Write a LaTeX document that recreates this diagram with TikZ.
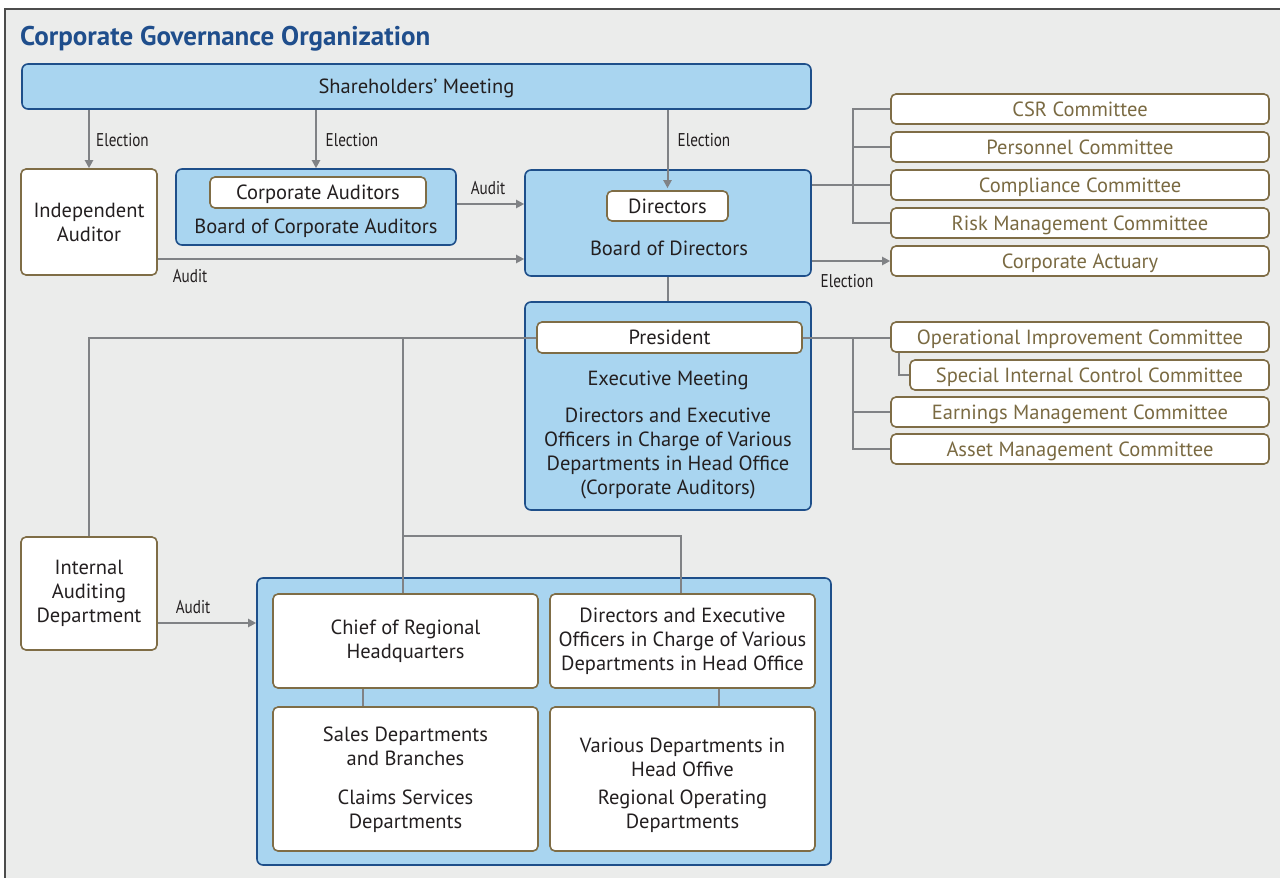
\documentclass[tikz,border=0pt]{standalone}
\usepackage{fontspec}
\setmainfont{PT Sans}
\newfontfamily\condfont{PT Sans}[FakeStretch=0.82]
\usetikzlibrary{arrows.meta,calc}
\definecolor{bg}{HTML}{EBECEB}
\definecolor{lblue}{HTML}{A9D5F0}
\definecolor{dblue}{HTML}{1E4F8A}
\definecolor{brownb}{HTML}{7F6D46}
\definecolor{browntxt}{HTML}{7A6A42}
\definecolor{conn}{HTML}{808285}
\definecolor{txt}{HTML}{231F20}
\definecolor{titleblue}{HTML}{1F4E8C}
\tikzset{
  bluebox/.style={draw=dblue, fill=lblue, line width=1.6pt, rounded corners=6pt, inner sep=0pt, text=txt},
  whitebox/.style={draw=brownb, fill=white, line width=1.6pt, rounded corners=5pt, inner sep=0pt, text=txt, align=center},
  oneline/.style={text height=16pt, text depth=2pt},
  combox/.style={whitebox, oneline, text=browntxt, minimum width=378pt, minimum height=30pt},
  body/.style={font=\fontsize{20.5}{24}\selectfont},
  lbl/.style={font=\condfont\fontsize{18.5}{20}\selectfont, text=txt, inner sep=0pt},
  cline/.style={draw=conn, line width=2pt},
  arr/.style={cline, -{Triangle[width=8pt,length=8pt]}},
  plain/.style={inner sep=0pt, text=txt, align=center, body}
}
\begin{document}
\begin{tikzpicture}[x=1pt,y=-1pt, every node/.append style={body}]
\useasboundingbox (0,0) rectangle (1280,878);
\fill[white] (0,0) rectangle (1280,878);
\fill[bg] (5,9) rectangle (1280,878);
\draw[line width=1.5pt, draw=black!70] (5,878) -- (5,9) -- (1280,9);
\node[anchor=base west, inner sep=0pt, text=titleblue, font=\bfseries\fontsize{27}{30}\selectfont] (title) at (20,45) {Corporate Governance Organization};

% top
\node[bluebox, oneline, minimum width=789pt, minimum height=45pt] (SM) at (416.5,86.5) {Shareholders’ Meeting};
\node[whitebox, minimum width=136pt, minimum height=106pt] (IA) at (89,222) {Independent\\Auditor};
\node[bluebox, minimum width=280pt, minimum height=76pt] (BCA) at (316,207) {};
\node[whitebox, oneline, minimum width=216pt, minimum height=31pt] (CA) at (318,192.5) {Corporate Auditors};
\node[plain] (BCAt) at (316,228) {Board of Corporate Auditors};
\node[bluebox, minimum width=286pt, minimum height=106pt] (BoD) at (668,223) {};
\node[whitebox, oneline, minimum width=121pt, minimum height=30pt] (Dir) at (667.5,206) {Directors};
\node[plain] (BoDt) at (669,248) {Board of Directors};

% committees
\node[combox] (CSR) at (1080,109) {CSR Committee};
\node[combox] (Pers) at (1080,147) {Personnel Committee};
\node[combox] (Comp) at (1080,185) {Compliance Committee};
\node[combox] (Risk) at (1080,223) {Risk Management Committee};
\node[combox] (Act) at (1080,261) {Corporate Actuary};
\node[combox] (OI) at (1080,337) {Operational Improvement Committee};
\node[combox, minimum width=359pt] (SIC) at (1089.5,375) {Special Internal Control Committee};
\node[combox] (EM) at (1080,412) {Earnings Management Committee};
\node[combox] (AM) at (1080,449) {Asset Management Committee};

% executive
\node[bluebox, minimum width=286pt, minimum height=208pt] (Exec) at (668,406) {};
\node[whitebox, oneline, minimum width=265pt, minimum height=31pt] (Pres) at (669.5,337.5) {President};
\node[plain] (EMt) at (668,380.5) {Executive Meeting};
\node[plain] (EXt) at (668,453) {Directors and Executive\\Officers in Charge of Various\\Departments in Head Office\\(Corporate Auditors)};

% lower
\node[whitebox, minimum width=136pt, minimum height=113pt] (IAD) at (89,593.5) {Internal\\Auditing\\Department};
\node[bluebox, minimum width=574pt, minimum height=287pt] (Big) at (544,721.5) {};
\node[whitebox, minimum width=265pt, minimum height=94pt] (CRH) at (405.5,641) {Chief of Regional\\Headquarters};
\node[whitebox, minimum width=265pt, minimum height=94pt] (DEH) at (682.5,641) {Directors and Executive\\Officers in Charge of Various\\Departments in Head Office};
\node[whitebox, minimum width=265pt, minimum height=144pt] (SD) at (405.5,779) {};
\node[whitebox, minimum width=265pt, minimum height=144pt] (VD) at (682.5,779) {};
\node[plain] (SD1) at (405.5,746) {Sales Departments\\and Branches};
\node[plain] (SD2) at (405.5,811) {Claims Services\\Departments};
\node[plain] (VD1) at (682.5,757) {Various Departments in\\Head Offive};
\node[plain] (VD2) at (682.5,811) {Regional Operating\\Departments};

% connectors top
\draw[arr] (SM.south -| IA.north) -- (IA.north);
\draw[arr] (SM.south -| BCA.north) -- (BCA.north);
\draw[arr, shorten >=2pt] (SM.south -| Dir.north) -- (Dir.north);
\node[lbl] (e1) at (122.5,140) {Election};
\node[lbl] (e2) at (352,140) {Election};
\node[lbl] (e3) at (704,140) {Election};
\draw[arr] ([yshift=3pt]BCA.east) -- ([yshift=3pt]BCA.east -| BoD.west);
\node[lbl] (a1) at (488,188) {Audit};
\draw[arr] ([yshift=-37pt]IA.east) -- ([yshift=-37pt]IA.east -| BoD.west);
\node[lbl] (a2) at (190,276) {Audit};
\draw[cline] (BoD.south) -- (Exec.north);

% committee buses
\coordinate (busA) at (853,0);
\draw[cline] (BoD.east |- Comp.west) -- (Comp.west);
\draw[cline] (CSR.west) -- (CSR.west -| busA) -- (Risk.west -| busA) -- (Risk.west);
\draw[cline] (Pers.west -| busA) -- (Pers.west);
\draw[arr] (BoD.east |- Act.west) -- (Act.west);
\node[lbl] (e4) at (847,281) {Election};
\draw[cline] (Pres.east) -- (Pres.east -| OI.west);
\draw[cline] (Pres.east -| busA) -- (AM.west -| busA) -- (AM.west);
\draw[cline] (EM.west -| busA) -- (EM.west);
\draw[cline] ([xshift=9pt]OI.south west) |- (SIC.west);

% president down
\draw[cline] (Pres.west) -- (Pres.west -| IAD.north) -- (IAD.north);
\draw[cline] ([xshift=-3pt]Pres.west -| CRH.north) -- ([xshift=-3pt]CRH.north);
\draw[cline] ([xshift=-3pt]IAD.north -| CRH.north) -| ([xshift=-1.5pt]DEH.north);
\draw[arr] ([yshift=-29.5pt]IAD.east) -- ([yshift=-29.5pt]IAD.east -| Big.west);
\node[lbl] (a3) at (193,607) {Audit};
\draw[cline] ([xshift=-42.5pt]CRH.south) -- ([xshift=-42.5pt]SD.north);
\draw[cline] ([xshift=36.5pt]DEH.south) -- ([xshift=36.5pt]VD.north);
\end{tikzpicture}
\end{document}
